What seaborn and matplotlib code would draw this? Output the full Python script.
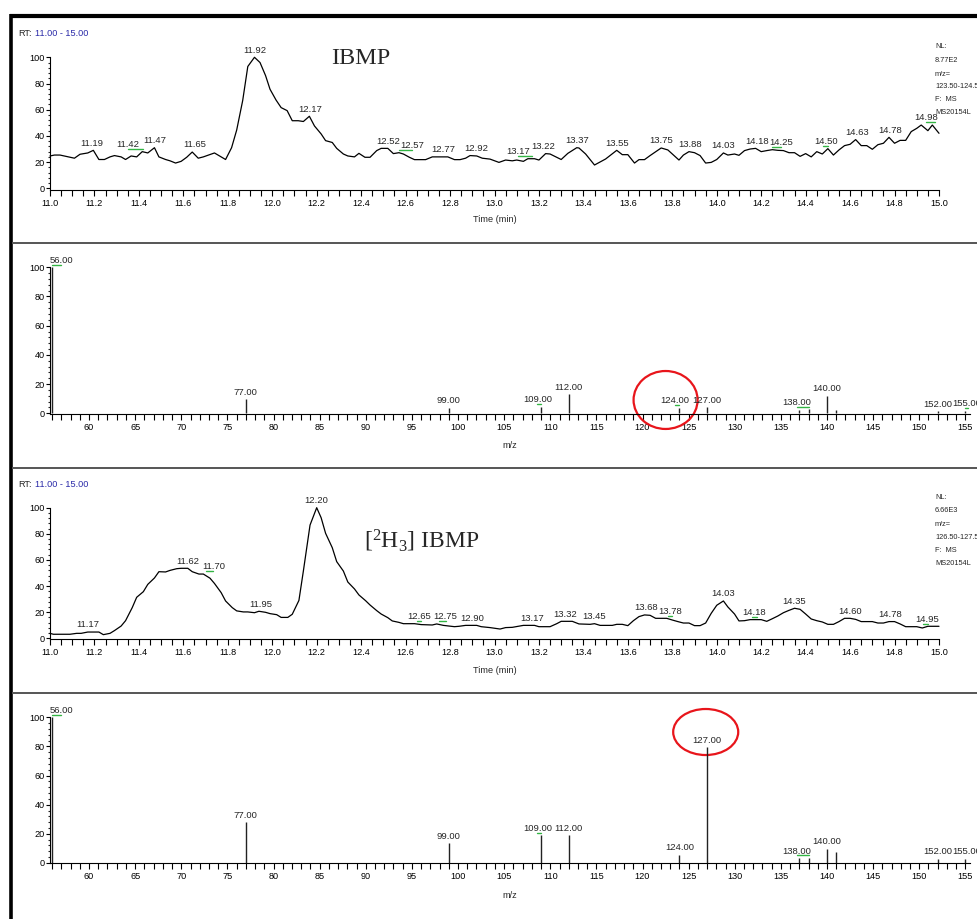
import matplotlib
matplotlib.use("Agg")
import matplotlib.pyplot as plt
import matplotlib.transforms as mtrans
from matplotlib.lines import Line2D
from matplotlib.patches import Ellipse
from matplotlib.ticker import MultipleLocator, FormatStrFormatter
import numpy as np
import pandas as pd
import seaborn as sns

# ---------------- data ----------------
# Panel 1: IBMP extracted-ion chromatogram (m/z 123.50-124.50)
ibmp_time = [11.00, 11.02, 11.045, 11.11, 11.135, 11.17, 11.195, 11.22, 11.245, 11.27,
             11.29, 11.32, 11.34, 11.365, 11.39, 11.415, 11.44, 11.47, 11.49, 11.52,
             11.54, 11.565, 11.59, 11.615, 11.64, 11.667, 11.69, 11.74, 11.77, 11.79,
             11.817, 11.84, 11.867, 11.89, 11.92, 11.945, 11.97, 11.99, 12.017, 12.04,
             12.067, 12.09, 12.117, 12.14, 12.167, 12.19, 12.22, 12.24, 12.27, 12.29,
             12.32, 12.34, 12.37, 12.39, 12.417, 12.44, 12.47, 12.49, 12.52, 12.545,
             12.57, 12.59, 12.617, 12.64, 12.69, 12.72, 12.79, 12.82, 12.845, 12.87,
             12.89, 12.92, 12.945, 12.98, 13.02, 13.05, 13.08, 13.10, 13.13, 13.15,
             13.18, 13.20, 13.23, 13.25, 13.30, 13.33, 13.37, 13.38, 13.41, 13.45,
             13.48, 13.50, 13.55, 13.575, 13.60, 13.63, 13.65, 13.675, 13.70, 13.75,
             13.78, 13.83, 13.85, 13.875, 13.90, 13.925, 13.95, 13.975, 14.00, 14.03,
             14.05, 14.08, 14.10, 14.125, 14.15, 14.175, 14.20, 14.225, 14.25, 14.275,
             14.30, 14.325, 14.35, 14.375, 14.40, 14.425, 14.45, 14.475, 14.50, 14.525,
             14.55, 14.575, 14.60, 14.625, 14.65, 14.675, 14.70, 14.725, 14.75, 14.775,
             14.80, 14.825, 14.85, 14.875, 14.90, 14.92, 14.95, 14.97, 15.00]
ibmp_int = [24.7, 25.4, 25.4, 23.0, 26.0, 27.0, 29.0, 22.0, 22.0, 24.0,
            25.0, 24.0, 22.0, 24.7, 24.0, 28.0, 27.0, 31.0, 24.0, 22.0,
            21.0, 19.3, 20.6, 23.7, 27.7, 23.0, 24.0, 27.0, 24.0, 22.0,
            31.0, 44.5, 67.0, 93.0, 100.0, 96.0, 86.0, 75.6, 67.4, 61.6,
            59.3, 51.6, 51.6, 51.0, 55.0, 47.6, 41.5, 36.4, 35.0, 30.5,
            26.2, 24.7, 24.0, 26.7, 23.7, 23.7, 28.8, 30.5, 30.5, 26.5,
            27.2, 26.2, 23.7, 21.9, 21.9, 24.0, 24.0, 21.9, 21.9, 23.0,
            25.0, 24.7, 23.0, 22.3, 19.8, 21.6, 21.0, 21.6, 20.6, 22.6,
            22.6, 21.6, 26.5, 26.2, 22.0, 26.7, 31.0, 30.8, 26.2, 17.8,
            20.6, 22.4, 29.0, 25.7, 25.7, 19.3, 21.9, 21.9, 25.0, 30.8,
            29.3, 21.6, 25.4, 28.0, 27.2, 25.0, 19.3, 19.8, 22.0, 27.0,
            25.4, 26.2, 25.2, 28.8, 30.0, 30.5, 28.0, 28.8, 29.5, 29.0,
            28.8, 27.2, 27.2, 24.4, 26.5, 24.0, 28.0, 26.2, 30.3, 25.4,
            29.3, 32.6, 33.6, 37.2, 32.6, 32.6, 29.8, 33.3, 34.4, 38.9,
            34.4, 36.6, 36.6, 43.3, 45.8, 48.3, 44.0, 48.3, 42.0]
ibmp_peaks = [11.19, 11.42, 11.47, 11.65, 11.92, 12.17, 12.52, 12.57, 12.77, 12.92,
              13.17, 13.22, 13.37, 13.55, 13.75, 13.88, 14.03, 14.18, 14.25, 14.50,
              14.63, 14.78, 14.98]
ibmp_flagged = [11.42, 12.57, 13.17, 14.25, 14.50, 14.98]

# Panel 3: [2H3] IBMP extracted-ion chromatogram (m/z 126.50-127.50)
d3_time = [11.00, 11.015, 11.09, 11.12, 11.14, 11.17, 11.22, 11.24, 11.27, 11.29,
           11.32, 11.34, 11.37, 11.39, 11.42, 11.44, 11.47, 11.49, 11.52, 11.54,
           11.57, 11.59, 11.62, 11.64, 11.67, 11.69, 11.72, 11.74, 11.77, 11.79,
           11.82, 11.84, 11.87, 11.89, 11.92, 11.94, 11.97, 11.99, 12.02, 12.04,
           12.07, 12.09, 12.12, 12.14, 12.17, 12.20, 12.22, 12.24, 12.27, 12.29,
           12.32, 12.34, 12.37, 12.39, 12.42, 12.44, 12.47, 12.49, 12.52, 12.54,
           12.57, 12.59, 12.64, 12.67, 12.72, 12.74, 12.77, 12.82, 12.84, 12.87,
           12.92, 12.94, 12.98, 13.025, 13.05, 13.08, 13.13, 13.18, 13.20, 13.25,
           13.28, 13.30, 13.35, 13.38, 13.43, 13.45, 13.475, 13.53, 13.55, 13.575,
           13.60, 13.625, 13.65, 13.675, 13.70, 13.725, 13.75, 13.775, 13.80, 13.825,
           13.85, 13.875, 13.90, 13.925, 13.95, 13.975, 14.00, 14.03, 14.05, 14.08,
           14.10, 14.125, 14.15, 14.175, 14.20, 14.225, 14.25, 14.275, 14.30, 14.325,
           14.35, 14.375, 14.40, 14.425, 14.45, 14.475, 14.50, 14.525, 14.55, 14.575,
           14.60, 14.625, 14.65, 14.70, 14.725, 14.75, 14.775, 14.80, 14.825, 14.85,
           14.90, 14.925, 14.95, 15.00]
d3_int = [3.8, 3.1, 3.1, 3.8, 3.8, 4.8, 4.8, 2.8, 3.8, 5.9,
          9.4, 13.5, 23.5, 31.4, 35.7, 41.3, 46.2, 51.0, 50.8, 52.0,
          53.3, 53.6, 53.6, 51.0, 49.2, 49.2, 46.0, 42.0, 35.0, 28.6,
          23.5, 21.0, 20.2, 20.2, 19.6, 20.7, 19.9, 18.9, 18.1, 16.0,
          16.0, 18.4, 29.0, 51.5, 86.7, 100.0, 92.3, 80.4, 69.4, 58.7,
          51.5, 43.1, 37.8, 33.2, 28.8, 25.5, 21.2, 18.6, 15.8, 13.3,
          12.2, 11.2, 11.2, 10.5, 10.2, 11.0, 9.9, 8.9, 9.2, 9.9,
          9.9, 8.9, 8.2, 7.1, 8.2, 8.4, 9.9, 9.9, 8.9, 8.9,
          11.2, 13.0, 13.0, 11.0, 10.7, 11.2, 9.9, 9.9, 10.7, 10.7,
          9.7, 13.5, 16.6, 17.9, 17.6, 15.3, 15.3, 15.3, 14.0, 12.8,
          11.7, 11.7, 9.7, 9.7, 11.7, 19.1, 25.3, 28.6, 24.0, 18.6,
          13.3, 13.5, 14.3, 14.3, 14.3, 13.0, 15.0, 17.1, 19.6, 21.4,
          23.0, 22.2, 18.6, 14.8, 13.5, 12.5, 10.7, 10.7, 12.8, 15.3,
          15.3, 14.5, 12.8, 12.8, 11.7, 11.7, 12.8, 12.8, 11.0, 8.9,
          8.9, 7.9, 9.2, 9.2]
d3_peaks = [11.17, 11.62, 11.70, 11.95, 12.20, 12.65, 12.75, 12.90, 13.17, 13.32,
            13.45, 13.68, 13.78, 14.03, 14.18, 14.35, 14.60, 14.78, 14.95]
d3_flagged = [11.70, 12.65, 12.75, 13.78, 14.18, 14.95]

# Panel 2: mass spectrum (IBMP)
ms1_mz = [56, 77, 99, 109, 112, 124, 127, 137, 138, 140, 141, 152, 155]
ms1_int = [100.0, 9.8, 3.7, 4.6, 13.0, 3.9, 4.3, 2.3, 2.7, 11.9, 2.3, 1.4, 1.8]
ms1_labels = [56, 77, 99, 109, 112, 124, 127, 138, 140, 152, 155]
ms1_flagged = [56, 109, 124, 138, 155]

# Panel 4: mass spectrum ([2H3] IBMP)
ms2_mz = [56, 77, 99, 109, 112, 124, 127, 137, 138, 140, 141, 152, 155]
ms2_int = [100.0, 27.9, 13.7, 19.0, 19.2, 5.7, 79.6, 3.4, 3.4, 9.8, 7.8, 3.0, 3.0]
ms2_labels = [56, 77, 99, 109, 112, 124, 127, 138, 140, 152, 155]
ms2_flagged = [56, 109, 138]

# ---------------- style ----------------
sns.set_style("ticks")
plt.rcParams['font.family'] = ['Liberation Sans Narrow', 'Liberation Sans', 'DejaVu Sans']
plt.rcParams['mathtext.fontset'] = 'custom'
plt.rcParams['mathtext.rm'] = 'Liberation Serif'

W, H = 978, 919
fig = plt.figure(figsize=(W / 100, H / 100), dpi=100)
fig.patch.set_facecolor('white')

GREEN = '#33b544'
FS_TICK = 6.6
FS_LAB = 6.8


def fx(x):
    return x / W


def fy(y):
    return 1 - y / H


def axes_px(l, t, r, b):
    ax = fig.add_axes([l / W, 1 - b / H, (r - l) / W, (b - t) / H])
    ax.set_facecolor('none')
    return ax


def style_axes(ax):
    for s in ('top', 'right'):
        ax.spines[s].set_visible(False)
    for s in ('left', 'bottom'):
        ax.spines[s].set_linewidth(0.8)
        ax.spines[s].set_color('black')
    ax.tick_params(axis='x', which='both', direction='out', length=4, width=0.8,
                   labelsize=FS_TICK, pad=2.5, colors='black')
    ax.tick_params(axis='y', which='major', direction='out', length=3.2, width=0.8,
                   labelsize=FS_TICK, pad=0.8, colors='black')
    ax.tick_params(axis='y', which='minor', direction='out', length=1.8, width=0.8)
    ax.yaxis.set_major_locator(MultipleLocator(20))
    ax.yaxis.set_minor_locator(MultipleLocator(4))
    ax.set_xlabel('')
    ax.set_ylabel('')


def chromatogram(ax, t, y, peaks, flagged, shifts, ylo):
    df = pd.DataFrame({'time': t, 'rel': y})
    sns.lineplot(data=df, x='time', y='rel', ax=ax, color='black', lw=0.9,
                 estimator=None, sort=False)
    ax.lines[0].set_clip_on(False)
    ax.set_xlim(11, 15)
    ax.set_ylim(ylo, 100)
    style_axes(ax)
    ax.xaxis.set_major_locator(MultipleLocator(0.2))
    ax.xaxis.set_minor_locator(MultipleLocator(0.05))
    ax.xaxis.set_major_formatter(FormatStrFormatter('%.1f'))
    tt = np.array(t)
    yy = np.array(y)
    tr_txt = mtrans.offset_copy(ax.transData, fig=fig, x=0, y=3.4, units='points')
    tr_flag = mtrans.offset_copy(ax.transData, fig=fig, x=0, y=2.0, units='points')
    for p in peaks:
        m = np.abs(tt - p) <= 0.016
        py = yy[m].max() if m.any() else float(np.interp(p, tt, yy))
        sh = shifts.get(p, 0.0)
        ax.text(p + sh, py, f"{p:.2f}", transform=tr_txt, ha='center', va='baseline',
                fontsize=FS_LAB, clip_on=False)
        if p in flagged:
            d = sh if abs(sh) >= 0.02 else (0.02 if sh >= 0 else -0.02)
            ax.plot([p, p + d], [py, py], transform=tr_flag, color=GREEN, lw=1.0,
                    clip_on=False)


def spectrum(ax, mz, inten, labels, flagged, shifts, ylo):
    ax.vlines(mz, 0, inten, color='#222222', lw=1.0)
    ax.set_xlim(55.8, 155.5)
    ax.set_ylim(ylo, 100)
    style_axes(ax)
    ax.xaxis.set_major_locator(MultipleLocator(5))
    ax.xaxis.set_minor_locator(MultipleLocator(1))
    ax.xaxis.set_major_formatter(FormatStrFormatter('%d'))
    tr_txt = mtrans.offset_copy(ax.transData, fig=fig, x=0, y=3.2, units='points')
    tr_flag = mtrans.offset_copy(ax.transData, fig=fig, x=0, y=2.0, units='points')
    lookup = dict(zip(mz, inten))
    for m_ in labels:
        h = lookup[m_]
        sh = shifts.get(m_, 0.0)
        ax.text(m_ + sh, h, f"{m_:.2f}", transform=tr_txt, ha='center', va='baseline',
                fontsize=FS_LAB, clip_on=False)
        if m_ in flagged:
            d = sh if abs(sh) >= 0.3 else 0.3 * (1 if sh >= 0 else -1)
            ax.plot([m_, m_ + d], [h, h], transform=tr_flag, color=GREEN, lw=1.0,
                    clip_on=False)


# ---- panel 1 ----
ax1 = axes_px(50, 57.3, 939, 190.3)
chromatogram(ax1, ibmp_time, ibmp_int, ibmp_peaks, ibmp_flagged,
             {11.42: -0.07, 12.57: 0.06, 13.17: -0.065, 14.25: 0.04, 14.50: -0.01,
              14.98: -0.04}, -1.5)

# ---- panel 2 ----
ax2 = axes_px(50.3, 267.3, 970, 414.0)
spectrum(ax2, ms1_mz, ms1_int, ms1_labels, ms1_flagged,
         {56: 1.0, 109: -0.4, 124: -0.5, 138: -1.3, 155: 0.1}, -0.5)
ax2.add_patch(Ellipse((122.5, 9.1), width=6.94, height=39.7, fill=False,
                      ec='#e8151b', lw=1.6, clip_on=False))

# ---- panel 3 ----
ax3 = axes_px(50, 507.7, 939, 638.7)
chromatogram(ax3, d3_time, d3_int, d3_peaks, d3_flagged,
             {11.70: 0.035, 12.65: 0.012, 12.75: 0.03, 13.78: 0.012, 14.18: -0.01,
              14.95: -0.005}, -0.3)

# ---- panel 4 ----
ax4 = axes_px(50.3, 717.3, 970, 863.4)
spectrum(ax4, ms2_mz, ms2_int, ms2_labels, ms2_flagged,
         {56: 1.0, 109: -0.4, 138: -1.3, 155: 0.1}, -0.3)
ax4.add_patch(Ellipse((126.85, 89.9), width=7.05, height=31.6, fill=False,
                      ec='#e8151b', lw=1.6, clip_on=False))

# ---- annotation texts ----
for ytop in (34, 484):
    fig.text(fx(18), fy(ytop), "RT:", fontsize=6.6, va='center', ha='left')
    fig.text(fx(35), fy(ytop), "11.00 - 15.00", fontsize=6.6, va='center', ha='left',
             color='#2a2aa8')

nl1 = ["NL:", "8.77E2", "m/z=", "123.50-124.50", "F:  MS", "MS20154L"]
nl2 = ["NL:", "6.66E3", "m/z=", "126.50-127.50", "F:  MS", "MS20154L"]
for lines, ys in ((nl1, [46.7, 60, 74, 86.5, 99.3, 112.7]),
                  (nl2, [497.7, 510.7, 525, 537.7, 550, 563.3])):
    for s, yv in zip(lines, ys):
        fig.text(fx(935), fy(yv), s, fontsize=5.3, va='center', ha='left')

for yv in (220, 670.5):
    fig.text(fx(495), fy(yv), "Time (min)", fontsize=6.6, va='center', ha='center')
for yv in (446, 896):
    fig.text(fx(510), fy(yv), "m/z", fontsize=6.6, va='center', ha='center')

fig.text(fx(361), fy(59), "IBMP", fontsize=17.5, family='Liberation Serif',
         va='center', ha='center')
fig.text(fx(364), fy(541), r"[$\mathregular{^2}$H$\mathregular{_3}$] IBMP", fontsize=17,
         family='Liberation Serif', va='center', ha='left')

# ---- frame and separators ----
fig.add_artist(Line2D([fx(9.5), 1.0], [fy(15.5), fy(15.5)], transform=fig.transFigure,
                      color='black', lw=3.0, solid_capstyle='butt'))
fig.add_artist(Line2D([fx(11), fx(11)], [fy(14), 0.0], transform=fig.transFigure,
                      color='black', lw=2.6, solid_capstyle='butt'))
for yv in (242.5, 467.5, 692.5):
    fig.add_artist(Line2D([fx(12), 1.0], [fy(yv), fy(yv)], transform=fig.transFigure,
                          color='#555555', lw=1.4, solid_capstyle='butt'))

fig.savefig("out.png", dpi=100, facecolor='white')
